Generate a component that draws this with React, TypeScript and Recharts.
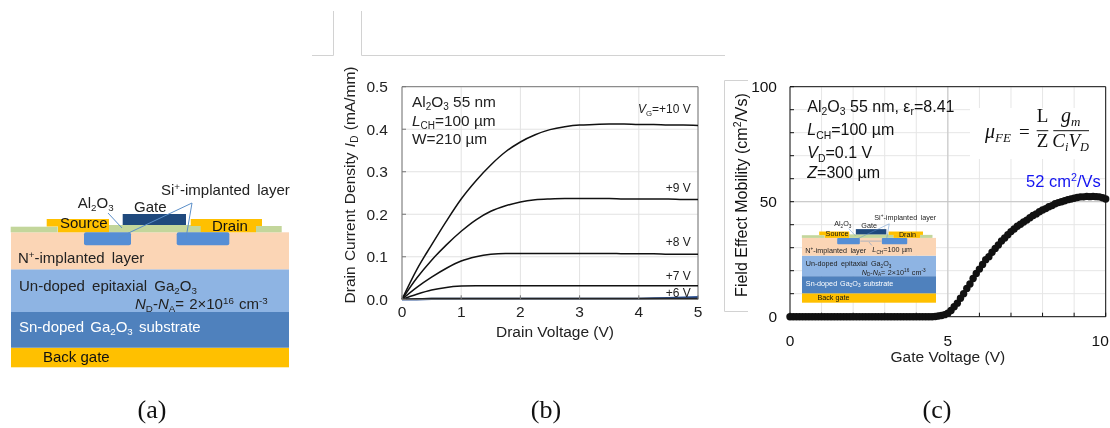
import React from "react";
import { LineChart, Line, XAxis, YAxis, CartesianGrid, ReferenceLine } from "recharts";

const drainVoltage = [0, 0.25, 0.5, 0.75, 1, 1.25, 1.5, 1.75, 2, 2.25, 2.5, 2.75, 3, 3.25, 3.5, 3.75, 4, 4.25, 4.5, 4.75, 5];
const currentVg10 = [0, 0.07, 0.128, 0.184, 0.236, 0.279, 0.316, 0.347, 0.37, 0.387, 0.399, 0.406, 0.41, 0.411, 0.412, 0.412, 0.411, 0.411, 0.41, 0.41, 0.409];
const currentVg9 = [0, 0.05, 0.092, 0.128, 0.16, 0.187, 0.207, 0.22, 0.229, 0.234, 0.236, 0.237, 0.237, 0.237, 0.237, 0.236, 0.236, 0.236, 0.236, 0.235, 0.235];
const currentVg8 = [0, 0.028, 0.052, 0.073, 0.09, 0.1, 0.106, 0.108, 0.108, 0.108, 0.108, 0.108, 0.108, 0.108, 0.108, 0.107, 0.107, 0.107, 0.106, 0.106, 0.106];
const currentVg7 = [0, 0.012, 0.022, 0.028, 0.031, 0.032, 0.032, 0.032, 0.032, 0.032, 0.032, 0.032, 0.032, 0.032, 0.032, 0.032, 0.032, 0.032, 0.032, 0.032, 0.032];
const currentVg6 = [0, 0.001, 0.002, 0.002, 0.002, 0.002, 0.002, 0.002, 0.002, 0.002, 0.002, 0.002, 0.002, 0.002, 0.002, 0.002, 0.002, 0.002, 0.002, 0.002, 0.002];
const currentVg5 = [0, 0, 0.001, 0.001, 0.001, 0.001, 0.001, 0.001, 0.001, 0.001, 0.001, 0.001, 0.001, 0.001, 0.001, 0.001, 0.001, 0.002, 0.003, 0.004, 0.005];
const drainXTicks = [0, 1, 2, 3, 4, 5];
const drainYTicks = [0, 0.1, 0.2, 0.3, 0.4, 0.5];

const gateVoltage = [
  0, 0.1, 0.2, 0.3, 0.4, 0.5, 0.6, 0.7, 0.8, 0.9, 1, 1.1, 1.2, 1.3, 1.4, 1.5, 1.6, 1.7, 1.8, 1.9,
  2, 2.1, 2.2, 2.3, 2.4, 2.5, 2.6, 2.7, 2.8, 2.9, 3, 3.1, 3.2, 3.3, 3.4, 3.5, 3.6, 3.7, 3.8, 3.9,
  4, 4.1, 4.2, 4.3, 4.4, 4.5, 4.6, 4.7, 4.8, 4.9, 5, 5.1, 5.2, 5.3, 5.4, 5.5, 5.6, 5.7, 5.8, 5.9,
  6, 6.1, 6.2, 6.3, 6.4, 6.5, 6.6, 6.7, 6.8, 6.9, 7, 7.1, 7.2, 7.3, 7.4, 7.5, 7.6, 7.7, 7.8, 7.9,
  8, 8.1, 8.2, 8.3, 8.4, 8.5, 8.6, 8.7, 8.8, 8.9, 9, 9.1, 9.2, 9.3, 9.4, 9.5, 9.6, 9.7, 9.8, 9.9, 10,
];
const mobility = [
  0, 0, 0, 0, 0, 0, 0, 0, 0, 0, 0, 0, 0, 0, 0, 0, 0, 0, 0, 0,
  0, 0, 0, 0, 0, 0, 0, 0, 0, 0, 0, 0, 0, 0, 0, 0, 0, 0, 0, 0,
  0, 0, 0, 0, 0, 0, 0.1, 0.3, 0.5, 0.9, 1.5, 2.7, 4.3, 5.9, 8, 10, 12.3, 14.2, 16.6, 18.8,
  20.7, 22.7, 24.8, 26.1, 28, 29.7, 31.2, 32.9, 34.2, 35.6, 37, 38.1, 39.3, 40.2, 41.2, 42, 43, 44, 44.7, 45.6,
  46.4, 47, 47.8, 48.3, 49.1, 49.6, 50, 50.4, 50.9, 51.2, 51.5, 51.8, 52.1, 52.1, 52.3, 52.2, 52.3, 52.2, 52.1, 51.7, 51.2,
];
const gateXTicks = [0, 1, 2, 3, 4, 5, 6, 7, 8, 9, 10];
const mobilityTicks = [0, 10, 20, 30, 40, 50, 60, 70, 80, 90, 100];

const drainRows = drainVoltage.map((v, i) => ({
  v, g5: currentVg5[i], g6: currentVg6[i], g7: currentVg7[i], g8: currentVg8[i], g9: currentVg9[i], g10: currentVg10[i],
}));
const gateRows = gateVoltage.map((v, i) => ({ v, m: mobility[i] }));

const SANS = "'Liberation Sans', Arial, sans-serif";
const SERIF = "'Liberation Serif', 'Times New Roman', serif";

type Seg = string | [string, string];
function Rich({ x, y, size, segs, fill = "#222", anchor = "start", rotate, spacing, family = SANS }: any) {
  let cur = 0;
  return (
    <text
      x={x}
      y={y}
      fontSize={size}
      fontFamily={family}
      fill={fill}
      textAnchor={anchor}
      wordSpacing={spacing}
      transform={rotate ? `rotate(${rotate} ${x} ${y})` : undefined}
    >
      {(segs as Seg[]).map((s, i) => {
        const t = typeof s === "string" ? s : s[0];
        const k = typeof s === "string" ? "" : s[1];
        const target = k.includes("b") ? size * 0.22 : k.includes("p") ? -size * 0.36 : 0;
        const dy = target - cur;
        cur = target;
        return (
          <tspan
            key={i}
            dy={dy}
            fontSize={k.includes("b") || k.includes("p") ? size * 0.65 : size}
            fontStyle={k.includes("i") ? "italic" : "normal"}
          >
            {t}
          </tspan>
        );
      })}
    </text>
  );
}

function Schematic({ transform, inset }: { transform?: string; inset?: boolean }) {
  const line = "#5b8fc9";
  return (
    <g transform={transform}>
      <rect x={11} y={347.7} width={278} height={19.6} fill="#FFC000" />
      <rect x={11} y={312} width={278} height={35.7} fill="#4F81BD" />
      <rect x={11} y={269.3} width={278} height={42.7} fill="#8EB4E3" />
      <rect x={11} y={232.3} width={278} height={37} fill="#FBD5B5" />
      <rect x={10.7} y={226.7} width={47} height={5.6} fill="#C3D69B" />
      <rect x={109} y={225} width={92} height={7.3} fill="#C3D69B" />
      <rect x={256} y={226} width={25.7} height={6.3} fill="#C3D69B" />
      <rect x={46.7} y={219} width={62.3} height={7.5} fill="#FFC000" />
      <rect x={58} y={226} width={51} height={6.3} fill="#FFC000" />
      <rect x={190.7} y={219} width={71.3} height={7} fill="#FFC000" />
      <rect x={200.7} y={225} width={55.3} height={7.3} fill="#FFC000" />
      <rect x={122.7} y={214} width={63.3} height={11} fill="#1F497D" />
      <rect x={84} y={232.3} width={47} height={13} rx={2} fill="#558ED5" />
      <rect x={176.7} y={232.3} width={52.6} height={13} rx={2} fill="#558ED5" />
      <line x1={108} y1={213} x2={122} y2={228} stroke={line} strokeWidth={1} />
      <line x1={192} y1={203} x2={118} y2={238} stroke={line} strokeWidth={1} />
      <line x1={192} y1={203} x2={186} y2={238} stroke={line} strokeWidth={1} />
      <Rich x={161} y={195} size={15} spacing={3} fill="#222" segs={["Si", ["+", "p"], "-implanted layer"]} />
      <Rich x={77.7} y={208} size={15} fill="#222" segs={["Al", ["2", "b"], "O", ["3", "b"]]} />
      <Rich x={134} y={212} size={15} fill="#222" segs={["Gate"]} />
      <Rich x={60} y={228} size={15} fill="#111" segs={["Source"]} />
      <Rich x={212} y={231} size={15} fill="#111" segs={["Drain"]} />
      <Rich x={18} y={263} size={15} spacing={3} fill="#222" segs={["N", ["+", "p"], "-implanted layer"]} />
      <Rich x={19} y={291} size={15} spacing={3} fill="#222" segs={["Un-doped epitaxial Ga", ["2", "b"], "O", ["3", "b"]]} />
      <Rich x={135} y={309} size={15} spacing={1} fill="#222" segs={[["N", "i"], ["D", "b"], "-", ["N", "i"], ["A", "b"], "= 2×10", ["16", "p"], " cm", ["-3", "p"]]} />
      <Rich x={19} y={332} size={15} spacing={2} fill="#fff" segs={["Sn-doped Ga", ["2", "b"], "O", ["3", "b"], " substrate"]} />
      <Rich x={43} y={362} size={15} fill="#111" segs={["Back gate"]} />
      {inset && (
        <>
          <line x1={132} y1={239} x2={176} y2={239} stroke={line} strokeWidth={1} />
          <line x1={150} y1={241} x2={156} y2={248} stroke={line} strokeWidth={1} />
          <Rich x={157} y={262} size={15} spacing={1} fill="#222" segs={[["L", "i"], ["CH", "b"], "=100 µm"]} />
        </>
      )}
    </g>
  );
}

function Corners() {
  const c = "#d2d2d2";
  return (
    <g fill="none" stroke={c} strokeWidth={1}>
      <path d="M312 55.5H333.5V11" />
      <path d="M361.5 11V55.5H725" />
      <path d="M748 80.5H724.5V311.5H748" />
    </g>
  );
}

const Caption = ({ x, label }: { x: number; label: string }) => (
  <text x={x} y={418} fontFamily={SERIF} fontSize={26} fill="#111" textAnchor="middle">
    {label}
  </text>
);

const tick = { fontFamily: SANS, fontSize: 15.5, fill: "#222" };
const labelStyle = { fontFamily: SANS, fontSize: 15.5, fill: "#222" };

const mobilityYTick = (p: any) => (
  <text x={p.x} y={p.y} dy={5.5} textAnchor="end" {...tick} fill="#111">
    {p.payload.value % 50 === 0 ? p.payload.value : ""}
  </text>
);
const gateTick = (p: any) => (
  <text x={p.payload.value === 10 ? p.x - 5.5 : p.x} y={p.y} dy={5.5} textAnchor="middle" {...tick} fill="#111">
    {p.payload.value % 5 === 0 ? p.payload.value : ""}
  </text>
);

function DrainChart() {
  return (
    <div style={{ position: "absolute", left: 300, top: 60 }}>
      <LineChart width={410} height={300} data={drainRows} margin={{ top: 26.7, right: 12, bottom: 0, left: 0 }}>
        <CartesianGrid stroke="#e2e2e2" strokeWidth={1} />
        <XAxis
          dataKey="v"
          type="number"
          domain={[0, 5]}
          ticks={drainXTicks}
          tickSize={-4}
          tickMargin={11}
          tick={tick}
          stroke="#777"
          height={60.7}
          label={{ value: "Drain Voltage  (V)", position: "insideBottom", offset: 23, dx: 5, style: labelStyle }}
        />
        <YAxis
          type="number"
          domain={[0, 0.5]}
          ticks={drainYTicks}
          tickFormatter={(v: number) => v.toFixed(1)}
          tickSize={-4}
          tickMargin={18}
          tick={tick}
          stroke="#777"
          width={102}
        />
        <ReferenceLine y={0.5} stroke="#777" />
        <ReferenceLine x={5} stroke="#777" />
        <Line dataKey="g5" stroke="#2f5597" strokeWidth={2.2} dot={false} isAnimationActive={false} />
        <Line dataKey="g6" type="monotone" stroke="#111" strokeWidth={1.6} dot={false} isAnimationActive={false} />
        <Line dataKey="g7" type="monotone" stroke="#111" strokeWidth={1.5} dot={false} isAnimationActive={false} />
        <Line dataKey="g8" type="monotone" stroke="#111" strokeWidth={1.5} dot={false} isAnimationActive={false} />
        <Line dataKey="g9" type="monotone" stroke="#111" strokeWidth={1.5} dot={false} isAnimationActive={false} />
        <Line dataKey="g10" type="monotone" stroke="#111" strokeWidth={1.5} dot={false} isAnimationActive={false} />
      </LineChart>
    </div>
  );
}

function GateChart() {
  return (
    <div style={{ position: "absolute", left: 720, top: 60 }}>
      <LineChart width={390} height={320} data={gateRows} margin={{ top: 26.7, right: 4.3, bottom: 0, left: 0 }}>
        <CartesianGrid stroke="#e6e6e6" strokeWidth={1} />
        <XAxis
          dataKey="v"
          type="number"
          domain={[0, 10]}
          ticks={gateXTicks}
          interval={0}
          tickSize={-4}
          tickMargin={28}
          tick={gateTick}
          stroke="#111"
          height={63.3}
          label={{ value: "Gate Voltage (V)", position: "insideBottom", offset: 18, style: labelStyle }}
        />
        <YAxis
          type="number"
          domain={[0, 100]}
          ticks={mobilityTicks}
          interval={0}
          tickSize={-4}
          tickMargin={17}
          tick={mobilityYTick}
          stroke="#111"
          width={70}
        />
        <ReferenceLine x={5} stroke="#c4c4c4" />
        <ReferenceLine y={50} stroke="#c4c4c4" />
        <ReferenceLine y={100} stroke="#111" />
        <ReferenceLine x={10} stroke="#111" />
        <Line
          dataKey="m"
          stroke="#111"
          strokeWidth={1}
          dot={{ r: 3.7, fill: "#111", stroke: "none" }}
          isAnimationActive={false}
        />
      </LineChart>
    </div>
  );
}

function Overlay() {
  return (
    <svg width={1110} height={428} style={{ position: "absolute", left: 0, top: 0, pointerEvents: "none" }}>
      <Corners />
      <Schematic />
      <Caption x={152} label="(a)" />
      <Caption x={546} label="(b)" />
      <Caption x={937} label="(c)" />

      <Rich x={412} y={106.7} size={15.4} segs={["Al", ["2", "b"], "O", ["3", "b"], " 55 nm"]} />
      <Rich x={412} y={126} size={15.4} segs={[["L", "i"], ["CH", "b"], "=100 µm"]} />
      <Rich x={412} y={144} size={15.4} segs={["W=210 µm"]} />
      <Rich x={690.7} y={113} size={12} anchor="end" segs={[["V", "i"], ["G", "b"], "=+10 V"]} />
      <Rich x={690.7} y={191.7} size={12} anchor="end" segs={["+9 V"]} />
      <Rich x={690.7} y={246} size={12} anchor="end" segs={["+8 V"]} />
      <Rich x={690.7} y={280} size={12} anchor="end" segs={["+7 V"]} />
      <Rich x={690.7} y={296.5} size={12} anchor="end" segs={["+6 V"]} />
      <Rich x={354.5} y={185} size={15.5} anchor="middle" rotate={-90} spacing={1} segs={["Drain Current Density ", ["I", "i"], ["D", "b"], "  (mA/mm)"]} />

      <rect x={970} y={108} width={135} height={51} fill="#fff" />
      <Rich x={807.3} y={111.7} size={16} fill="#111" segs={["Al", ["2", "b"], "O", ["3", "b"], " 55 nm, ε", ["r", "b"], "=8.41"]} />
      <Rich x={807.3} y={135} size={16} fill="#111" segs={[["L", "i"], ["CH", "b"], "=100 µm"]} />
      <Rich x={807.3} y={158.3} size={16} fill="#111" segs={[["V", "i"], ["D", "b"], "=0.1 V"]} />
      <Rich x={807.3} y={178.3} size={16} fill="#111" segs={[["Z", "i"], "=300 µm"]} />
      <Rich x={747} y={195} size={16} anchor="middle" rotate={-90} fill="#111" segs={["Field Effect Mobility (cm", ["2", "p"], "/Vs)"]} />

      <Rich x={985} y={138} size={20} family={SERIF} fill="#111" segs={[["μ", "i"], ["FE", "bi"]]} />
      <Rich x={1019} y={138} size={19} family={SERIF} fill="#111" segs={["="]} />
      <Rich x={1042.5} y={121.7} size={19} anchor="middle" family={SERIF} fill="#111" segs={[["L", ""]]} />
      <Rich x={1042.5} y={147.3} size={19} anchor="middle" family={SERIF} fill="#111" segs={["Z"]} />
      <line x1={1036.7} y1={130.7} x2={1048.3} y2={130.7} stroke="#111" />
      <Rich x={1070.7} y={121.7} size={20} anchor="middle" family={SERIF} fill="#111" segs={[["g", "i"], ["m", "bi"]]} />
      <Rich x={1070.7} y={147.3} size={19} anchor="middle" family={SERIF} fill="#111" segs={[["C", "i"], ["i", "bi"], ["V", "i"], ["D", "bi"]]} />
      <line x1={1053.3} y1={130.7} x2={1089} y2={130.7} stroke="#111" />
      <Rich x={1026} y={186.7} size={16.5} fill="#1414f0" segs={["52 cm", ["2", "p"], "/Vs"]} />

      <Schematic inset transform="translate(796.7 126.4) scale(0.482 0.48)" />
    </svg>
  );
}

export default function App() {
  return (
    <div style={{ position: "absolute", left: 0, top: 0, width: 1110, height: 428, background: "#fff", overflow: "hidden", filter: "blur(0.35px)" }}>
      <DrainChart />
      <GateChart />
      <Overlay />
    </div>
  );
}
